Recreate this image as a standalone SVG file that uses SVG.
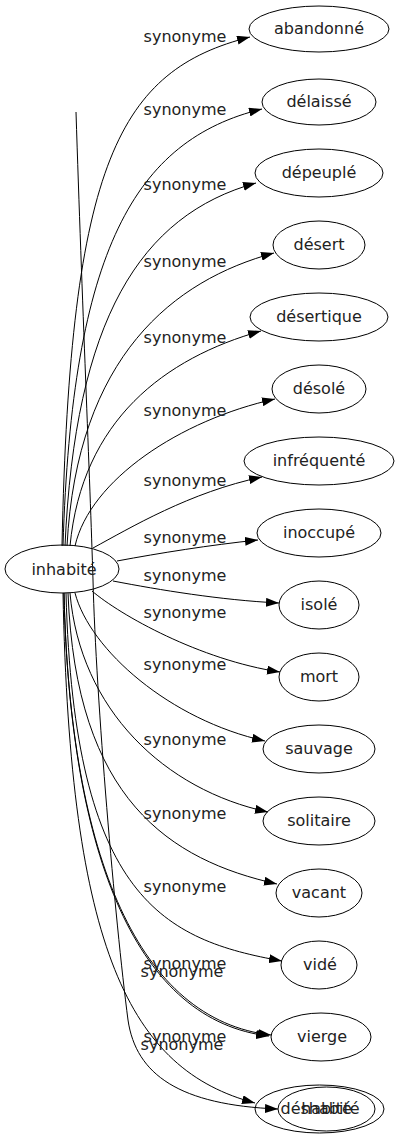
<svg xmlns="http://www.w3.org/2000/svg" width="400" height="1139" viewBox="0 0 400 1139">
<style>
.n ellipse{fill:none;stroke:#000;stroke-width:1}
.n text,.lbl{font-family:"DejaVu Sans",sans-serif;font-size:16px;fill:#222;text-anchor:middle}
.e{fill:none;stroke:#000;stroke-width:1;marker-end:url(#ah)}
</style>
<defs>
<marker id="ah" viewBox="0 0 13 9" refX="13" refY="4.5" markerWidth="13" markerHeight="9" markerUnits="userSpaceOnUse" orient="auto"><path d="M0,0 L13,4.5 L0,9 Z" fill="#000"/></marker>
</defs>
<rect width="400" height="1139" fill="#fff"/>
<g id="edges">
<path class="e" d="M62,546 C70,160 120,70 250,37"/>
<path class="e" d="M63,546 C72,250 135,140 262,109"/>
<path class="e" d="M65,546 C75,320 140,215 256,183"/>
<path class="e" d="M67,546 C77,356 174,280 274,253"/>
<path class="e" d="M70,546 C82,420 165,358 261,331"/>
<path class="e" d="M75,546 C90,480 180,420 275,399"/>
<path class="e" d="M93,548 C130,528 190,492 262,477"/>
<path class="e" d="M117,561 C160,553 210,545 258,540"/>
<path class="e" d="M113,581 C160,590 220,600 279,603"/>
<path class="e" d="M92,591 C120,615 200,660 280,672"/>
<path class="e" d="M75,593 C90,650 170,720 265,741"/>
<path class="e" d="M70,593 C80,710 165,790 268,812"/>
<path class="e" d="M68,593 C76,800 170,860 277,884"/>
<path class="e" d="M66,593 C74,900 165,940 282,961"/>
<path class="e" d="M64,593 C70,860 140,1020 271,1035"/>
<path class="e" d="M64,593 C70,861 139,1021 269,1036"/>
<path class="e" d="M63,593 C70,950 130,1070 255,1103"/>
<path class="e" d="M76,112 C82,300 90,480 93,580 C96,700 115,920 128,1020 C136,1075 180,1105 278,1109"/>
<text class="lbl" x="185" y="42">synonyme</text>
<text class="lbl" x="185" y="115">synonyme</text>
<text class="lbl" x="185" y="190">synonyme</text>
<text class="lbl" x="185" y="267">synonyme</text>
<text class="lbl" x="185" y="343">synonyme</text>
<text class="lbl" x="185" y="416">synonyme</text>
<text class="lbl" x="185" y="486">synonyme</text>
<text class="lbl" x="185" y="543">synonyme</text>
<text class="lbl" x="185" y="581">synonyme</text>
<text class="lbl" x="185" y="618">synonyme</text>
<text class="lbl" x="185" y="670">synonyme</text>
<text class="lbl" x="185" y="745">synonyme</text>
<text class="lbl" x="185" y="819">synonyme</text>
<text class="lbl" x="185" y="892">synonyme</text>
<text class="lbl" x="185" y="969">synonyme</text>
<text class="lbl" x="182" y="977">synonyme</text>
<text class="lbl" x="185" y="1042">synonyme</text>
<text class="lbl" x="182" y="1050">synonyme</text>
</g>
<g id="node-inhabite" class="n"><ellipse cx="62" cy="569" rx="57" ry="24"/><text x="64" y="575">inhabité</text></g>
<g id="node-abandonne" class="n"><ellipse cx="319" cy="29" rx="70" ry="23"/><text x="319" y="34">abandonné</text></g>
<g id="node-delaisse" class="n"><ellipse cx="319" cy="102" rx="57" ry="23"/><text x="319" y="107">délaissé</text></g>
<g id="node-depeuple" class="n"><ellipse cx="319" cy="173" rx="64" ry="24"/><text x="319" y="178">dépeuplé</text></g>
<g id="node-desert" class="n"><ellipse cx="319" cy="245" rx="46" ry="24"/><text x="319" y="250">désert</text></g>
<g id="node-desertique" class="n"><ellipse cx="319" cy="317" rx="69" ry="24"/><text x="319" y="322">désertique</text></g>
<g id="node-desole" class="n"><ellipse cx="319" cy="389" rx="47" ry="24"/><text x="319" y="394">désolé</text></g>
<g id="node-infrequente" class="n"><ellipse cx="319" cy="461" rx="75" ry="24"/><text x="319" y="466">infréquenté</text></g>
<g id="node-inoccupe" class="n"><ellipse cx="319" cy="533" rx="62" ry="24"/><text x="319" y="538">inoccupé</text></g>
<g id="node-isole" class="n"><ellipse cx="319" cy="605" rx="40" ry="24"/><text x="319" y="610">isolé</text></g>
<g id="node-mort" class="n"><ellipse cx="319" cy="677" rx="40" ry="24"/><text x="319" y="682">mort</text></g>
<g id="node-sauvage" class="n"><ellipse cx="319" cy="749" rx="56" ry="24"/><text x="319" y="754">sauvage</text></g>
<g id="node-solitaire" class="n"><ellipse cx="319" cy="821" rx="56" ry="24"/><text x="319" y="826">solitaire</text></g>
<g id="node-vacant" class="n"><ellipse cx="319" cy="893" rx="43" ry="24"/><text x="319" y="898">vacant</text></g>
<g id="node-vide" class="n"><ellipse cx="319" cy="965" rx="38" ry="24"/><text x="320" y="970">vidé</text></g>
<g id="node-vierge" class="n"><ellipse cx="321" cy="1037" rx="50" ry="24"/><text x="322" y="1042">vierge</text></g>
<g id="node-deshabite" class="n"><ellipse cx="319.5" cy="1109" rx="64.5" ry="24"/><text x="320" y="1114">déshabité</text></g>
<g id="node-habite" class="n"><ellipse cx="326.5" cy="1109" rx="48.5" ry="22"/><text x="326.5" y="1114">habité</text></g>
</svg>
